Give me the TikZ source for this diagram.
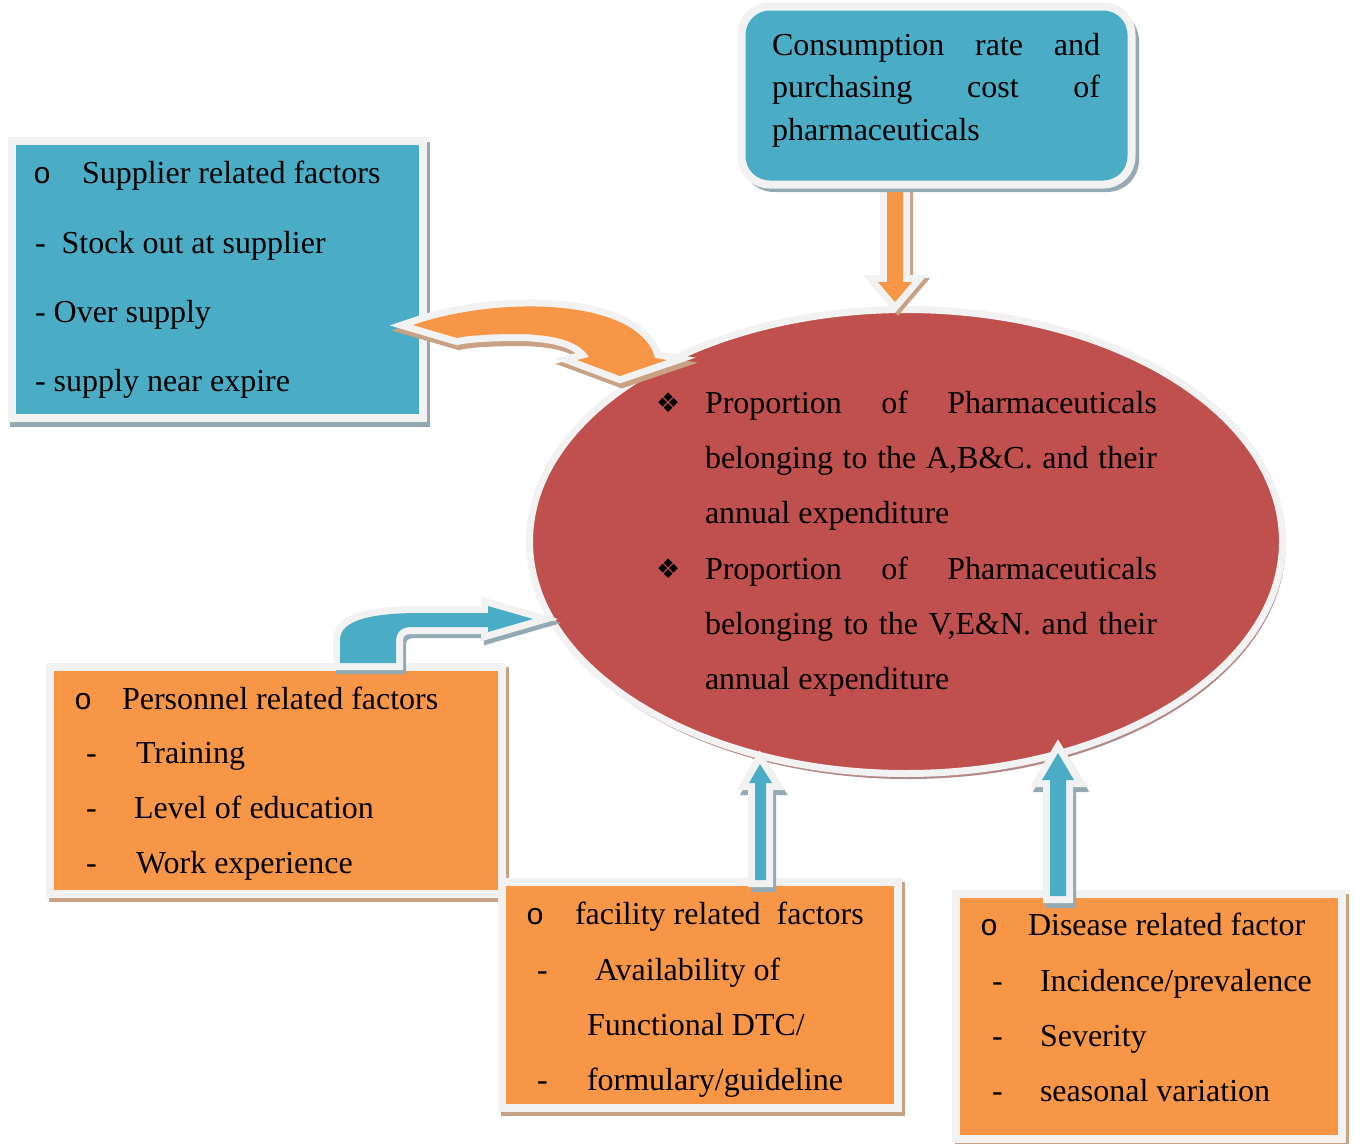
\documentclass[tikz,border=0pt]{standalone}
\usepackage{fontspec}
\setmainfont{Liberation Serif}
\newfontfamily\bulletfont{Liberation Mono}
\newfontfamily\symbolfont{DejaVu Sans}
\usetikzlibrary{shapes.geometric}
\definecolor{aqua}{HTML}{4BACC6}
\definecolor{orng}{HTML}{F79646}
\definecolor{redd}{HTML}{C0504D}
\definecolor{brd}{HTML}{F2F2F2}
\definecolor{shb}{HTML}{93AAB2}
\definecolor{sho}{HTML}{C9A285}
\definecolor{shr}{HTML}{B48A88}
\tikzset{
  txt/.style={anchor=base west, inner sep=0pt, outer sep=0pt, font=\fontsize{32}{38}\selectfont},
  bul/.style={anchor=base west, inner sep=0pt, outer sep=0pt, font=\bulletfont\fontsize{30}{36}\selectfont},
  dia/.style={anchor=base west, inner sep=0pt, outer sep=0pt, font=\symbolfont\fontsize{27}{32}\selectfont},
  boxnode/.style={draw=brd, line width=8pt, inner sep=0pt, outer sep=0pt},
  shshadow/.style={fill=#1, draw=#1, line width=14pt, line join=miter},
  shborder/.style={fill=brd, draw=brd, line width=14pt, line join=miter},
  topArrow/.style={insert path={(887,186) -- (887,282) -- (878,282) -- (895,302) -- (912,282) -- (903,282) -- (903,186) -- cycle}},
  supArrow/.style={insert path={(413,325) .. controls (470,305) and (560,298) .. (615,320) .. controls (640,330) and (652,345) .. (655,358) -- (667,360) -- (620,376) -- (577,360) -- (589,357) .. controls (580,343) and (560,335) .. (520,334) .. controls (495,334) and (470,335) .. (457,338) -- cycle}},
  perArrow/.style={insert path={(340,663) -- (340,640) .. controls (340,620) and (372,613) .. (420,613) -- (488,613) -- (488,606) -- (533,619) -- (488,632) -- (488,627) -- (412,627) .. controls (401,627) and (396,632) .. (396,642) -- (396,663) -- cycle}},
  facArrow/.style={insert path={(755,880) -- (755,783) -- (749,783) -- (760,764) -- (772,783) -- (766,783) -- (766,880) -- cycle}},
  disArrow/.style={insert path={(1050,896) -- (1050,780) -- (1042,780) -- (1058,753) -- (1074,780) -- (1066,780) -- (1066,896) -- cycle}},
}
\begin{document}
\begin{tikzpicture}[x=1pt,y=-1pt]
\useasboundingbox (0,0) rectangle (1354,1143);
\fill[white] (0,0) rectangle (1354,1143);

% central ellipse
\node[ellipse, fill=shr, minimum width=755pt, minimum height=468pt, inner sep=0pt] (coreshadow) at (908,545) {};
\node[ellipse, draw=brd, line width=7pt, fill=redd, minimum width=753pt, minimum height=464pt, inner sep=0pt] (core) at (906,541.5) {};

% top arrow (under the top box)
\path[shshadow=sho, shift={(3,3)}, topArrow];
\path[shborder, topArrow];
\path[fill=orng, topArrow];

% boxes
\fill[shb] (10,142) rectangle (430,427);
\node[boxnode, fill=aqua, minimum width=411pt, minimum height=276.5pt] (sup) at (217,279.25) {};

\fill[shb, rounded corners=32pt] (742,9) rectangle (1139,192);
\node[boxnode, rectangle, rounded corners=28pt, fill=aqua, minimum width=390pt, minimum height=178pt] (cons) at (936.5,95.5) {};

\fill[sho] (49,667) rectangle (509,902);
\node[boxnode, fill=orng, minimum width=452pt, minimum height=227pt] (pers) at (276,780) {};

\fill[sho] (501,882) rectangle (905,1116);
\node[boxnode, fill=orng, minimum width=395.5pt, minimum height=225.5pt] (fac) at (699.75,994.75) {};

\fill[sho] (955,894) rectangle (1349,1146);
\node[boxnode, fill=orng, minimum width=386pt, minimum height=245pt] (dis) at (1149,1016) {};

% arrows
\path[shshadow=sho, shift={(2,5)}, supArrow];
\path[shborder, supArrow];
\path[fill=orng, supArrow];

\path[shshadow=shb, shift={(3,4)}, perArrow];
\path[shborder, perArrow];
\path[fill=aqua, perArrow];

\path[shshadow=shb, shift={(3,5)}, facArrow];
\path[shborder, facArrow];
\path[fill=aqua, facArrow];

\path[shshadow=shb, shift={(3,5)}, disArrow];
\path[shborder, disArrow];
\path[fill=aqua, disArrow];

% consumption text
\node[txt] (c1) at (772,55) {\makebox[328pt][s]{Consumption rate and}};
\node[txt] (c2) at (772,97) {\makebox[328pt][s]{purchasing cost of}};
\node[txt] (c3) at (772,140) {pharmaceuticals};

% supplier text
\node[bul] (sb) at (33,183) {o};
\node[txt] (s1) at (82,183) {Supplier related factors};
\node[txt] (s2) at (35,253) {-\hspace{16pt}Stock out at supplier};
\node[txt] (s3) at (35,322) {- Over supply};
\node[txt] (s4) at (35,391) {- supply near expire};

% ellipse text
\node[dia] (d1) at (656,412) {❖};
\node[txt] (e1) at (705,413) {\makebox[452pt][s]{Proportion of Pharmaceuticals}};
\node[txt] (e2) at (705,468) {\makebox[452pt][s]{belonging to the A,B\&C. and their}};
\node[txt] (e3) at (705,523) {annual expenditure};
\node[dia] (d2) at (656,578) {❖};
\node[txt] (e4) at (705,579) {\makebox[452pt][s]{Proportion of Pharmaceuticals}};
\node[txt] (e5) at (705,634) {\makebox[452pt][s]{belonging to the V,E\&N. and their}};
\node[txt] (e6) at (705,689) {annual expenditure};

% personnel text
\node[bul] (pb) at (74,709) {o};
\node[txt] (p1) at (122,709) {Personnel related factors};
\node[txt] (p2d) at (86,763) {-};
\node[txt] (p2) at (136,763) {Training};
\node[txt] (p3d) at (86,818) {-};
\node[txt] (p3) at (134,818) {Level of education};
\node[txt] (p4d) at (86,873) {-};
\node[txt] (p4) at (136,873) {Work experience};

% facility text
\node[bul] (fb) at (526,924) {o};
\node[txt] (f1) at (575,924) {facility related\hspace{16pt}factors};
\node[txt] (f2d) at (537,980) {-};
\node[txt] (f2) at (595,980) {Availability of};
\node[txt] (f3) at (587,1035) {Functional DTC/};
\node[txt] (f4d) at (537,1090) {-};
\node[txt] (f4) at (587,1090) {formulary/guideline};

% disease text
\node[bul] (db) at (980,935) {o};
\node[txt] (g1) at (1028,935) {Disease related factor};
\node[txt] (g2d) at (992,991) {-};
\node[txt] (g2) at (1040,991) {Incidence/prevalence};
\node[txt] (g3d) at (992,1046) {-};
\node[txt] (g3) at (1040,1046) {Severity};
\node[txt] (g4d) at (992,1101) {-};
\node[txt] (g4) at (1040,1101) {seasonal variation};
\end{tikzpicture}
\end{document}
